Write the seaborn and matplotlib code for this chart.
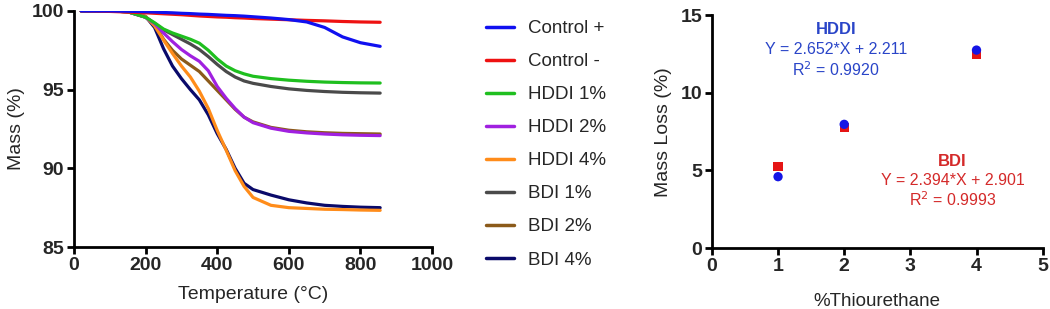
""" TGA curves and mass loss vs thiourethane content. """

import numpy as np
import pandas as pd
import matplotlib
matplotlib.use('Agg')
from matplotlib import pyplot as plt
import seaborn as sns

###########
# Data    #
###########
temperature = [20, 100, 150, 200, 225, 250, 275, 300, 325, 350, 375, 400,
               425, 450, 475, 500, 550, 600, 650, 700, 750, 800, 855]

control_pos = [100, 100, 99.98, 99.95, 99.93, 99.9, 99.88, 99.85, 99.83, 99.8, 99.78, 99.75,
               99.72, 99.7, 99.67, 99.63, 99.55, 99.45, 99.3, 98.95, 98.35, 97.98, 97.75]
control_neg = [100, 99.97, 99.93, 99.88, 99.85, 99.82, 99.79, 99.76, 99.72, 99.68, 99.65, 99.62,
               99.6, 99.57, 99.55, 99.52, 99.48, 99.44, 99.4, 99.37, 99.33, 99.3, 99.28]
hddi_1 = [100, 100, 99.95, 99.6, 99.25, 98.85, 98.6, 98.4, 98.2, 97.95, 97.5, 96.95,
          96.5, 96.2, 96.0, 95.85, 95.7, 95.6, 95.53, 95.48, 95.45, 95.43, 95.42]
hddi_2 = [100, 100, 99.95, 99.6, 99.2, 98.6, 98.05, 97.55, 97.15, 96.8, 96.2, 95.2,
          94.45, 93.8, 93.25, 92.9, 92.55, 92.35, 92.25, 92.18, 92.13, 92.1, 92.08]
hddi_4 = [100, 100, 99.95, 99.65, 99.05, 98.15, 97.3, 96.5, 95.8, 94.9, 93.8, 92.4,
          91.15, 89.85, 88.85, 88.15, 87.65, 87.5, 87.45, 87.4, 87.38, 87.35, 87.33]
bdi_1 = [100, 100, 99.95, 99.6, 99.2, 98.8, 98.5, 98.2, 97.9, 97.55, 97.1, 96.6,
         96.15, 95.8, 95.55, 95.4, 95.2, 95.05, 94.95, 94.88, 94.83, 94.8, 94.78]
bdi_2 = [100, 100, 99.95, 99.6, 99.15, 98.2, 97.5, 96.95, 96.55, 96.15, 95.55, 94.95,
         94.35, 93.75, 93.25, 92.95, 92.6, 92.42, 92.32, 92.26, 92.22, 92.2, 92.18]
bdi_4 = [100, 100, 99.95, 99.65, 98.95, 97.6, 96.5, 95.7, 95.0, 94.35, 93.4, 92.2,
         91.2, 90.0, 89.05, 88.65, 88.3, 88.0, 87.8, 87.65, 87.58, 87.53, 87.5]

series_names = ['Control +', 'Control -', 'HDDI 1%', 'HDDI 2%', 'HDDI 4%',
                'BDI 1%', 'BDI 2%', 'BDI 4%']
series_values = [control_pos, control_neg, hddi_1, hddi_2, hddi_4, bdi_1, bdi_2, bdi_4]
series_colors = ['#1010f0', '#ee1111', '#1fbf1f', '#a020e0', '#ff8c1a',
                 '#4a4a4a', '#8b5a1a', '#0a0a6a']

thiourethane = [1, 2, 4]
loss_hddi = [4.6, 7.97, 12.75]
loss_bdi = [5.25, 7.77, 12.47]

#################
# Build frames  #
#################
tga = pd.concat([
    pd.DataFrame({'temp': temperature, 'mass': vals, 'sample': name})
    for name, vals in zip(series_names, series_values)
])
# BDI first so the HDDI circles sit on top
loss = pd.concat([
    pd.DataFrame({'x': thiourethane, 'loss': loss_bdi, 'mat': 'BDI'}),
    pd.DataFrame({'x': thiourethane, 'loss': loss_hddi, 'mat': 'HDDI'}),
])

sns.set_style('ticks')
plt.rcParams['font.family'] = ['Liberation Sans', 'DejaVu Sans']

fig = plt.figure(figsize=(10.5, 3.09), dpi=100)
ax0 = fig.add_axes([0.0705, 0.2006, 0.341, 0.764])
ax1 = fig.add_axes([0.678, 0.197, 0.315, 0.754])


def style_axes(ax):
    sns.despine(ax=ax)
    for side in ['left', 'bottom']:
        ax.spines[side].set_linewidth(2)
        ax.spines[side].set_color('black')
    ax.tick_params(width=2, length=5, color='black', labelsize=14, pad=2)
    for lab in ax.get_xticklabels() + ax.get_yticklabels():
        lab.set_fontweight('bold')


# TGA curves, drawn last-to-first so Control + ends up on top
color_map = dict(zip(series_names, series_colors))
sns.lineplot(ax=ax0, data=tga, x='temp', y='mass', hue='sample',
             hue_order=series_names[::-1], palette=color_map, linewidth=2.3,
             legend=True)
ax0.set_xlim(0, 1000)
ax0.set_ylim(85, 100)
ax0.set_xticks([0, 200, 400, 600, 800, 1000])
ax0.set_yticks([85, 90, 95, 100])
ax0.set_xlabel('Temperature (°C)', fontsize=14, labelpad=9)
ax0.set_ylabel('Mass (%)', fontsize=14, labelpad=5)
style_axes(ax0)

handles, labels = ax0.get_legend_handles_labels()
ax0.get_legend().remove()
leg = fig.legend(handles[::-1], labels[::-1], loc='upper left',
                 bbox_to_anchor=(0.447, 0.99), frameon=False, fontsize=13.5,
                 handlelength=1.5, handletextpad=0.75, labelspacing=0.85)
for line in leg.get_lines():
    line.set_linewidth(2.5)

# Mass loss
sns.scatterplot(ax=ax1, data=loss, x='x', y='loss', hue='mat', style='mat',
                hue_order=['BDI', 'HDDI'], style_order=['BDI', 'HDDI'],
                palette=['#e51515', '#1515e5'], markers=['s', 'o'],
                s=45, edgecolor='none', legend=False)
ax1.set_xlim(0, 5)
ax1.set_ylim(0, 15)
ax1.set_xticks([0, 1, 2, 3, 4, 5])
ax1.set_yticks([0, 5, 10, 15])
ax1.set_xlabel('%Thiourethane', fontsize=13.5, labelpad=13)
ax1.set_ylabel('Mass Loss (%)', fontsize=14, labelpad=6)
style_axes(ax1)

blue_txt = '#2a45c8'
red_txt = '#d42a2a'
ax1.text(1.88, 14.05, 'HDDI', color=blue_txt, fontsize=12, fontweight='bold',
         ha='center', va='center')
ax1.text(1.88, 12.77, 'Y = 2.652*X + 2.211', color=blue_txt, fontsize=11.5,
         ha='center', va='center')
ax1.text(1.88, 11.48, 'R$^2$ = 0.9920', color=blue_txt, fontsize=11.5,
         ha='center', va='center')
ax1.text(3.64, 5.58, 'BDI', color=red_txt, fontsize=12, fontweight='bold',
         ha='center', va='center')
ax1.text(3.64, 4.33, 'Y = 2.394*X + 2.901', color=red_txt, fontsize=11.5,
         ha='center', va='center')
ax1.text(3.64, 3.1, 'R$^2$ = 0.9993', color=red_txt, fontsize=11.5,
         ha='center', va='center')

plt.savefig('out.png', dpi=100)
